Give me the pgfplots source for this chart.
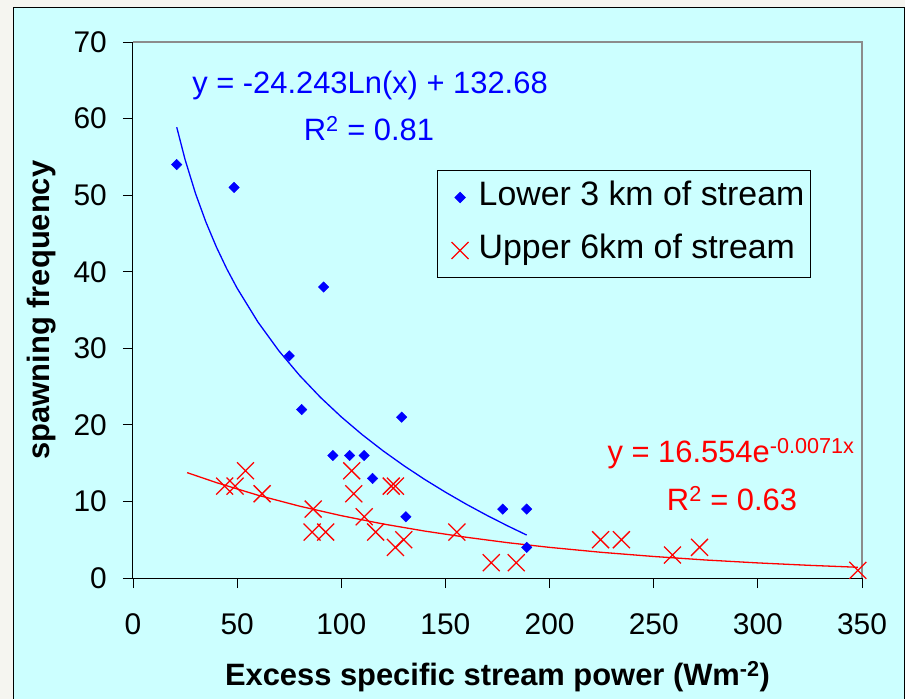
\documentclass[border=0pt]{standalone}
\usepackage{fontspec}
\setmainfont{Liberation Sans}
\usepackage{pgfplots}
\pgfplotsset{compat=1.18}
\definecolor{panel}{HTML}{CCFFFF}
\definecolor{page}{HTML}{F5F5F0}
\definecolor{plotframe}{HTML}{8C8C8C}

\pgfplotstableread{
x y
21 54
48.5 51
91.5 38
75 29
81 22
129 21
96 16
104 16
111 16
115 13
131 8
177.5 9
189 9
189 4
}\lowerreach

\pgfplotstableread{
x y
44 12
49 12
54 14
62 11
86.5 9
86 6
92.5 6
105 14
106 11
111 8
116.5 6
124 12
126 12
126 4
130 5
155.5 6
172 2
184 2
224.5 5
234.5 5
259 3
272 4
348 1
}\upperreach

% logarithmic fit of the lower reach
\pgfplotstableread{
x y
21 58.87
25 54.65
30 50.23
35 46.49
40 43.25
45 40.39
50 37.84
60 33.42
70 29.68
80 26.45
90 23.59
100 21.04
110 18.73
120 16.62
130 14.68
140 12.88
150 11.21
160 9.64
170 8.17
180 6.79
189 5.61
}\lowerfit

% exponential fit of the upper reach
\pgfplotstableread{
x y
26 13.76
40 12.46
60 10.81
80 9.38
100 8.14
120 7.06
140 6.13
160 5.32
180 4.61
200 4.00
225 3.35
250 2.81
275 2.35
300 1.97
325 1.65
348 1.40
}\upperfit

\begin{document}
\begin{tikzpicture}
\path[use as bounding box] (-133bp,-121bp) rectangle (772bp,578bp);
% page and chart area
\fill[page] (-133bp,-121bp) rectangle (772bp,578bp);
\filldraw[fill=panel, draw=black, line width=1bp] (-119bp,-130bp) rectangle (771bp,570bp);
\draw[plotframe, line width=1.5bp] (0,536bp) -- (729bp,536bp) -- (729bp,0);
\begin{axis}[
  at={(0,0)}, anchor=south west,
  scale only axis, width=729bp, height=536bp,
  xmin=0, xmax=350, ymin=0, ymax=70,
  xtick={0,50,...,350}, ytick={0,10,...,70},
  axis x line*=bottom, axis y line*=left,
  axis line style={black, line width=1bp, -},
  xtick pos=bottom, ytick pos=left,
  tick align=outside, major tick length=10bp,
  tick style={black, line width=0.8bp},
  /pgf/number format/assume math mode=true,
  ticklabel style={font=\fontsize{30}{36}\selectfont, inner sep=0pt},
  xticklabel style={anchor=north, yshift=-25bp},
  yticklabel style={anchor=east, xshift=-16bp},
  xlabel={Excess specific stream power (Wm\textsuperscript{-2})},
  ylabel={spawning frequency},
  every axis x label/.style={at={([yshift=-107bp]axis description cs:0.5,0)},
    anchor=base, font=\fontsize{31}{37}\selectfont\bfseries},
  every axis y label/.style={at={([xshift=-83bp]axis description cs:0,0.5)},
    rotate=90, anchor=base, font=\fontsize{31}{37}\selectfont\bfseries},
  clip=false,
  legend style={at={(axis description cs:0.417,0.761)}, anchor=north west,
    fill=panel, draw=black, line width=0.8bp,
    font=\fontsize{34}{40}\selectfont, inner xsep=4bp, inner ysep=7bp,
    row sep=13bp, cells={anchor=west},
    nodes={inner ysep=5bp, text height=23bp, text depth=7bp}},
  legend image code/.code={\draw[#1] plot coordinates {(0bp,0bp)};
    \path (-18bp,0bp) (16bp,0bp);},
]
\addplot[only marks, mark=square*, mark size=3.7bp, blue,
  every mark/.append style={rotate=45}] table {\lowerreach};
\addlegendentry{Lower 3 km of stream}
\addplot[only marks, mark=x, mark size=12bp, red, line width=1.3bp] table {\upperreach};
\addlegendentry{Upper 6km of stream}
\addplot[blue, line width=1.3bp, forget plot] table {\lowerfit};
\addplot[red, line width=1.3bp, forget plot] table {\upperfit};
\node[blue, font=\fontsize{31}{37}\selectfont, anchor=base] at (axis cs:113.8,63.3) {y = -24.243Ln(x) + 132.68};
\node[blue, font=\fontsize{31}{37}\selectfont, anchor=base] at (axis cs:113.3,57.2) {R\textsuperscript{2} = 0.81};
\node[red, font=\fontsize{31}{37}\selectfont, anchor=base] at (axis cs:287.1,15.1) {y = 16.554e\textsuperscript{-0.0071x}};
\node[red, font=\fontsize{31}{37}\selectfont, anchor=base] at (axis cs:287.6,8.88) {R\textsuperscript{2} = 0.63};
\end{axis}
\end{tikzpicture}
\end{document}
